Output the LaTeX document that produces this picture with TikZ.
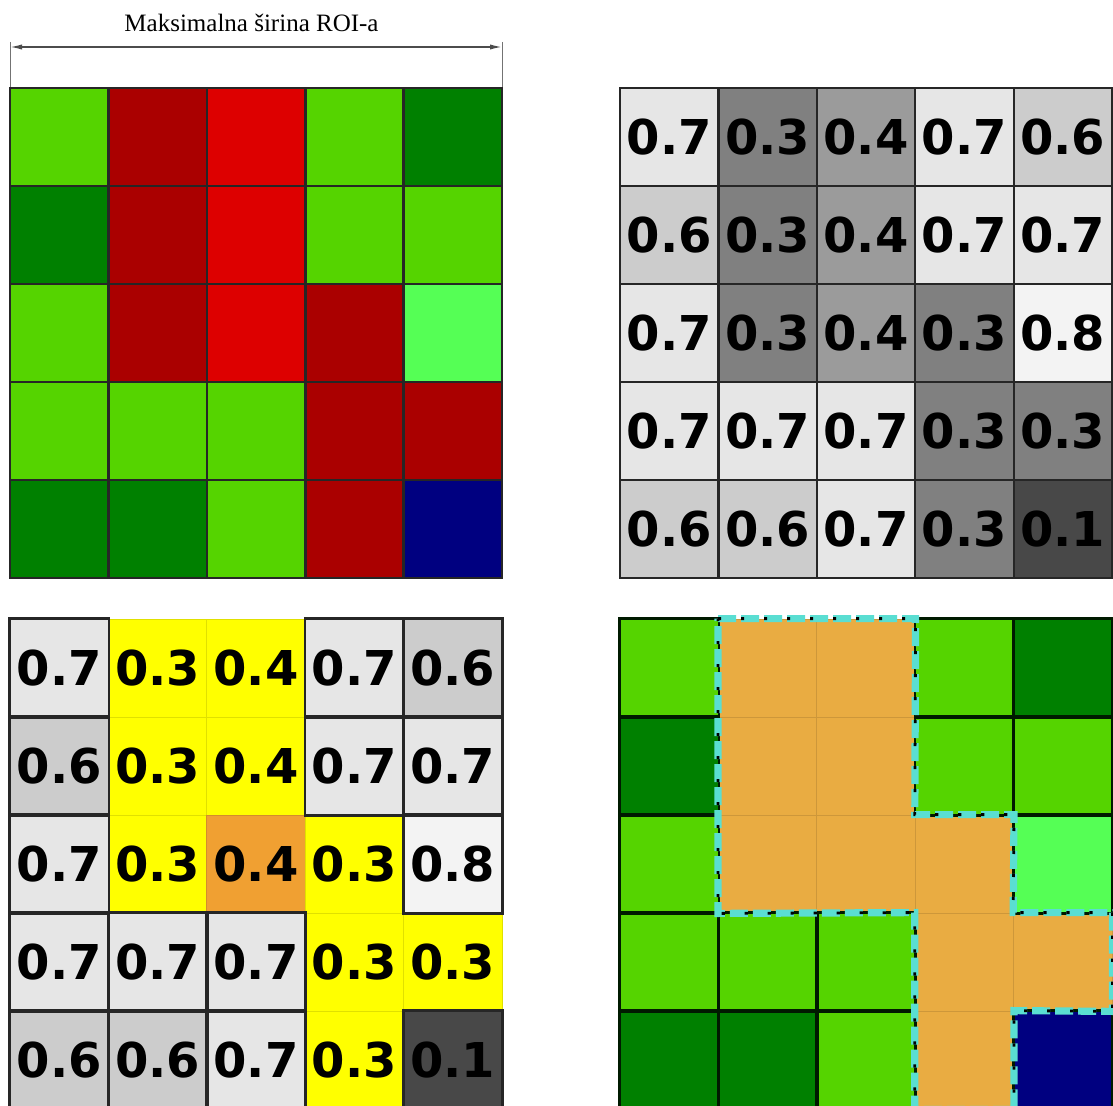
\documentclass[tikz,border=0pt]{standalone}
\usepackage{fontspec}
\setmainfont{Liberation Serif}
\newfontfamily\valfont{DejaVu Sans}
\usetikzlibrary{positioning,calc,arrows.meta}

\definecolor{lgr}{RGB}{85,212,0}
\definecolor{dgr}{RGB}{0,128,0}
\definecolor{bgr}{RGB}{85,255,85}
\definecolor{drd}{RGB}{170,0,0}
\definecolor{red}{RGB}{221,0,0}
\definecolor{nvy}{RGB}{0,0,128}
\definecolor{ylw}{RGB}{255,255,0}
\definecolor{org}{RGB}{240,160,50}
\definecolor{amb}{RGB}{233,172,66}
\definecolor{roicyan}{RGB}{90,222,210}
\definecolor{v1}{RGB}{72,72,72}
\definecolor{v3}{RGB}{128,128,128}
\definecolor{v4}{RGB}{155,155,155}
\definecolor{v6}{RGB}{204,204,204}
\definecolor{v7}{RGB}{230,230,230}
\definecolor{v8}{RGB}{243,243,243}

\begin{document}
\begin{tikzpicture}[
        x=0.5pt, y=-0.5pt,
        cell/.style={rectangle, inner sep=0pt, minimum width=49.2pt, minimum height=49pt},
        edge/.style={draw=black!85, line width=1.3pt},
        seam/.style={draw=#1!88!black, line width=0.4pt},
        val/.style={font=\valfont\bfseries\fontsize{24pt}{24pt}\selectfont, text=black},
        title/.style={font=\fontsize{12.5pt}{14pt}\selectfont, anchor=base},
        dim/.style={{Latex[length=6pt,width=2.6pt]}-{Latex[length=6pt,width=2.6pt]}, draw=black!70, line width=0.7pt},
        tick/.style={draw=black!55, line width=0.5pt},
        roi/.style={draw=roicyan, line width=3.6pt, dash pattern=on 9pt off 2.5pt, line join=miter},
        dots/.style={draw=black, line width=1.4pt, dash pattern=on 1.6pt off 9.9pt}
    ]
    \clip (0,0) rectangle (1113,1106);

    % width of the ROI
    \node[title] (roi) at (251.5,32) {Maksimalna širina ROI-a};
    \coordinate (wl) at (10,47);
    \coordinate (wr) at (502,47);
    \coordinate (tl) at (10,42);
    \coordinate (tr) at (502,42);
    \coordinate (bl) at (10,88);
    \coordinate (brr) at (502,88);
    \draw[tick] (tl) -- (bl);
    \draw[tick] (tr) -- (brr);
    \draw[dim] (wl) -- (wr);

    % top left: classes
    \foreach \cl [count=\n from 0] in {lgr,drd,red,lgr,dgr,
                                      dgr,drd,red,lgr,lgr,
                                      lgr,drd,red,drd,bgr,
                                      lgr,lgr,lgr,drd,drd,
                                      dgr,dgr,lgr,drd,nvy}{
        \pgfmathtruncatemacro\r{floor(\n/5)}
        \pgfmathtruncatemacro\c{mod(\n,5)}
        \node[cell, edge, fill=\cl] (a-\r-\c) at ({10+98.4*(\c+0.5)},{88+98*(\r+0.5)}) {};
    }

    % top right: scores
    \foreach \d [count=\n from 0] in {7,3,4,7,6, 6,3,4,7,7, 7,3,4,3,8, 7,7,7,3,3, 6,6,7,3,1}{
        \pgfmathtruncatemacro\r{floor(\n/5)}
        \pgfmathtruncatemacro\c{mod(\n,5)}
        \node[cell, edge, line width=1.1pt, fill=v\d, val] (b-\r-\c) at ({620+98.4*(\c+0.5)},{88+98*(\r+0.5)}) {0.\d};
    }

    % bottom left: low scores marked
    \foreach \d/\cl/\b [count=\n from 0] in {7/v7/1, 3/ylw/0, 4/ylw/0, 7/v7/1, 6/v6/1,
                                            6/v6/1, 3/ylw/0, 4/ylw/0, 7/v7/1, 7/v7/1,
                                            7/v7/1, 3/ylw/0, 4/org/0, 3/ylw/0, 8/v8/1,
                                            7/v7/1, 7/v7/1, 7/v7/1, 3/ylw/0, 3/ylw/0,
                                            6/v6/1, 6/v6/1, 7/v7/1, 3/ylw/0, 1/v1/1}{
        \pgfmathtruncatemacro\r{floor(\n/5)}
        \pgfmathtruncatemacro\c{mod(\n,5)}
        \node[cell, seam=\cl, fill=\cl, val] (c-\r-\c) at ({10+98.4*(\c+0.5)},{619+98*(\r+0.5)}) {0.\d};
    }
    \foreach \b [count=\n from 0] in {1,0,0,1,1, 1,0,0,1,1, 1,0,0,0,1, 1,1,1,0,0, 1,1,1,0,1}{
        \pgfmathtruncatemacro\r{floor(\n/5)}
        \pgfmathtruncatemacro\c{mod(\n,5)}
        \ifnum\b=1 \draw[edge] (c-\r-\c.north west) rectangle (c-\r-\c.south east); \fi
    }

    % bottom right: merged ROI
    \foreach \cl [count=\n from 0] in {lgr,amb,amb,lgr,dgr,
                                      dgr,amb,amb,lgr,lgr,
                                      lgr,amb,amb,amb,bgr,
                                      lgr,lgr,lgr,amb,amb,
                                      dgr,dgr,lgr,amb,nvy}{
        \pgfmathtruncatemacro\r{floor(\n/5)}
        \pgfmathtruncatemacro\c{mod(\n,5)}
        \node[cell, seam=\cl, fill=\cl] (d-\r-\c) at ({620+98.4*(\c+0.5)},{619+98*(\r+0.5)}) {};
    }
    \foreach \b [count=\n from 0] in {1,0,0,1,1, 1,0,0,1,1, 1,0,0,0,1, 1,1,1,0,0, 1,1,1,0,1}{
        \pgfmathtruncatemacro\r{floor(\n/5)}
        \pgfmathtruncatemacro\c{mod(\n,5)}
        \ifnum\b=1 \draw[edge, draw=black!80!dgr] (d-\r-\c.north west) rectangle (d-\r-\c.south east); \fi
    }
    \foreach \s in {roi,dots}{
        \draw[\s] (d-0-1.north west) -- (d-0-2.north east) -- (d-2-3.north west)
            -- (d-2-3.north east) -- (d-3-4.north west) -- (d-3-4.north east)
            -- (d-3-4.south east) -- (d-4-3.north east) -- (d-4-3.south east)
            -- (d-4-3.south west) -- (d-3-3.north west) -- (d-2-1.south west) -- cycle;
    }
\end{tikzpicture}
\end{document}
